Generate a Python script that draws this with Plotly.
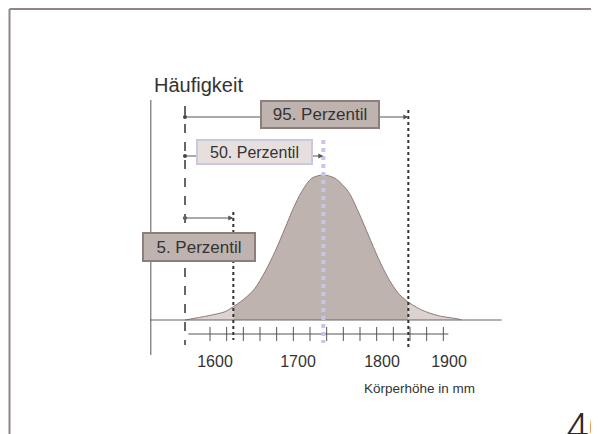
import plotly.graph_objects as go

# ---- data ----
height_mm = [1570, 1598, 1618, 1628, 1642, 1654, 1666, 1678, 1690, 1700, 1710, 1722, 1736,
             1750, 1766, 1778, 1790, 1802, 1814, 1826, 1838, 1854, 1874, 1898, 1902]
frequency = [0, 4.3, 8.3, 13.3, 21.7, 31.7, 48.3, 68.3, 91.7, 111.7, 128.3, 141.7, 145,
             141.7, 128.3, 108.3, 85, 61.7, 41.7, 26.7, 17.7, 10, 4.3, 1, 0]
range_start_mm = 1570
percentile_names = ["5. Perzentil", "50. Perzentil", "95. Perzentil"]
percentile_mm = [1628, 1736, 1838]
tick_text = ["1600", "1700", "1800", "1900"]
minor_ticks_mm = list(range(1600, 1881, 20))

FONT = "Liberation Sans, Arial, sans-serif"
TXT = "#333333"
DARK_FILL = "#bfb3b0"
LIGHT_FILL = "#dcd3d1"
OUTLINE = "#8b7b78"

# the page body has an 8px margin: figure is sized to fill the rest of the window
W, H, OFF = 591, 426, 8

p5, p50, p95 = percentile_mm

def segment(lo, hi):
    xs = [x for x in height_mm if lo <= x <= hi]
    ys = [frequency[height_mm.index(x)] for x in xs]
    return xs, ys

fig = go.Figure()
for lo, hi, col in [(height_mm[0], p5, LIGHT_FILL), (p5, p95, DARK_FILL), (p95, height_mm[-1], LIGHT_FILL)]:
    xs, ys = segment(lo, hi)
    fig.add_trace(go.Scatter(x=xs, y=ys, mode="lines", line=dict(color=OUTLINE, width=1, shape="spline", smoothing=0.8),
                             fill="tozeroy", fillcolor=col, hoverinfo="skip", showlegend=False))

# tick marks of the measurement scale
fig.add_trace(go.Scatter(x=minor_ticks_mm, y=[-14] * len(minor_ticks_mm), mode="markers",
                         marker=dict(symbol="line-ns", size=10, line=dict(color="#555555", width=1)),
                         hoverinfo="skip", showlegend=False))
# start dots of arrows
arrow_y = {p5: 102, p50: 164, p95: 203}
fig.add_trace(go.Scatter(x=[range_start_mm] * 3, y=[arrow_y[p] for p in percentile_mm], mode="markers",
                         marker=dict(symbol="circle", size=4, color="#444444"),
                         hoverinfo="skip", showlegend=False))

shapes = []
# frame
fx = (9.5 - OFF) / W
fy = 1 - (9 - OFF) / H
shapes.append(dict(type="line", xref="paper", yref="paper", x0=fx, x1=1, y0=fy, y1=fy,
                   line=dict(color="#8f8683", width=2)))
shapes.append(dict(type="line", xref="paper", yref="paper", x0=fx, x1=fx, y0=0, y1=fy,
                   line=dict(color="#8f8683", width=2)))
# axes
shapes.append(dict(type="line", x0=1529, x1=1529, y0=220, y1=-35, line=dict(color="#555555", width=1)))
shapes.append(dict(type="line", x0=1528, x1=1950, y0=0, y1=0, line=dict(color="#6d6566", width=1.2)))
shapes.append(dict(type="line", x0=1574, x1=1886, y0=-14, y1=-14, line=dict(color="#555555", width=1)))
# vertical reference lines
shapes.append(dict(type="line", x0=range_start_mm, x1=range_start_mm, y0=214, y1=-25,
                   line=dict(color="#666666", width=2, dash="dash")))
shapes.append(dict(type="line", x0=p5, x1=p5, y0=108, y1=-20, line=dict(color="#333333", width=2, dash="dot")))
shapes.append(dict(type="line", x0=p95, x1=p95, y0=210, y1=-27, line=dict(color="#333333", width=2, dash="dot")))
shapes.append(dict(type="line", x0=p50, x1=p50, y0=180, y1=-23, line=dict(color="#c5c5e6", width=4, dash="dot")))

annotations = []
# arrows
for p in percentile_mm:
    annotations.append(dict(x=p, y=arrow_y[p], ax=range_start_mm, ay=arrow_y[p], axref="x", ayref="y",
                            xref="x", yref="y", text="", showarrow=True, arrowhead=2, arrowsize=1,
                            arrowwidth=1, arrowcolor="#555555", standoff=0, startstandoff=0))
# label boxes
boxes = {
    "5. Perzentil": dict(x=1586.8, y=73, w=114, h=30, fill=DARK_FILL, border="#8c7e7b", fs=17),
    "50. Perzentil": dict(x=1653.4, y=168, w=117, h=26, fill="#e6dfde", border="#c9c8e3", fs=16),
    "95. Perzentil": dict(x=1732, y=205.5, w=120, h=29, fill=DARK_FILL, border="#8c7e7b", fs=17),
}
for name in percentile_names:
    b = boxes[name]
    annotations.append(dict(x=b["x"], y=b["y"], xref="x", yref="y", text=name, showarrow=False,
                            width=b["w"] - 4, height=b["h"] - 4, bgcolor=b["fill"], bordercolor=b["border"],
                            borderwidth=2, borderpad=0, font=dict(family=FONT, size=b["fs"], color=TXT)))
annotations.append(dict(x=1530.4, y=235, xref="x", yref="y", text="Häufigkeit", showarrow=False,
                        xanchor="left", yanchor="middle", font=dict(family=FONT, size=20, color=TXT)))
annotations.append(dict(x=1920.4, y=-68, xref="x", yref="y", text="Körperhöhe in mm", showarrow=False,
                        xanchor="right", yanchor="middle", font=dict(family=FONT, size=13.5, color=TXT)))
annotations.append(dict(x=(565 - OFF) / W, y=1 - (404 - OFF) / H, xref="paper", yref="paper", text="40",
                        showarrow=False, xanchor="left", yanchor="top", borderpad=0,
                        font=dict(family="Roboto, Liberation Sans, sans-serif", size=40, color="#2a2a2a",
                                  weight=300)))

# page px -> mm : mm = 1600 + (px - 210) * 1.2 ; page py -> value : y = 320 - py
x_lo = 1600 + (OFF - 210) * 1.2
x_hi = 1600 + (OFF + W - 210) * 1.2
y_hi = 320 - OFF
y_lo = 320 - (OFF + H)

fig.update_layout(
    width=W, height=H, margin=dict(l=0, r=0, t=0, b=0),
    paper_bgcolor="white", plot_bgcolor="white",
    xaxis=dict(range=[x_lo, x_hi], anchor="free", position=(OFF + H - 350) / H, showline=False, showgrid=False,
               zeroline=False, ticks="", tickvals=[1606, 1705.6, 1806.4, 1886.8], ticktext=tick_text,
               tickfont=dict(family=FONT, size=16, color=TXT), fixedrange=True),
    yaxis=dict(range=[y_lo, y_hi], visible=False, fixedrange=True),
    shapes=shapes, annotations=annotations, showlegend=False,
)

fig.write_html("out.html")
